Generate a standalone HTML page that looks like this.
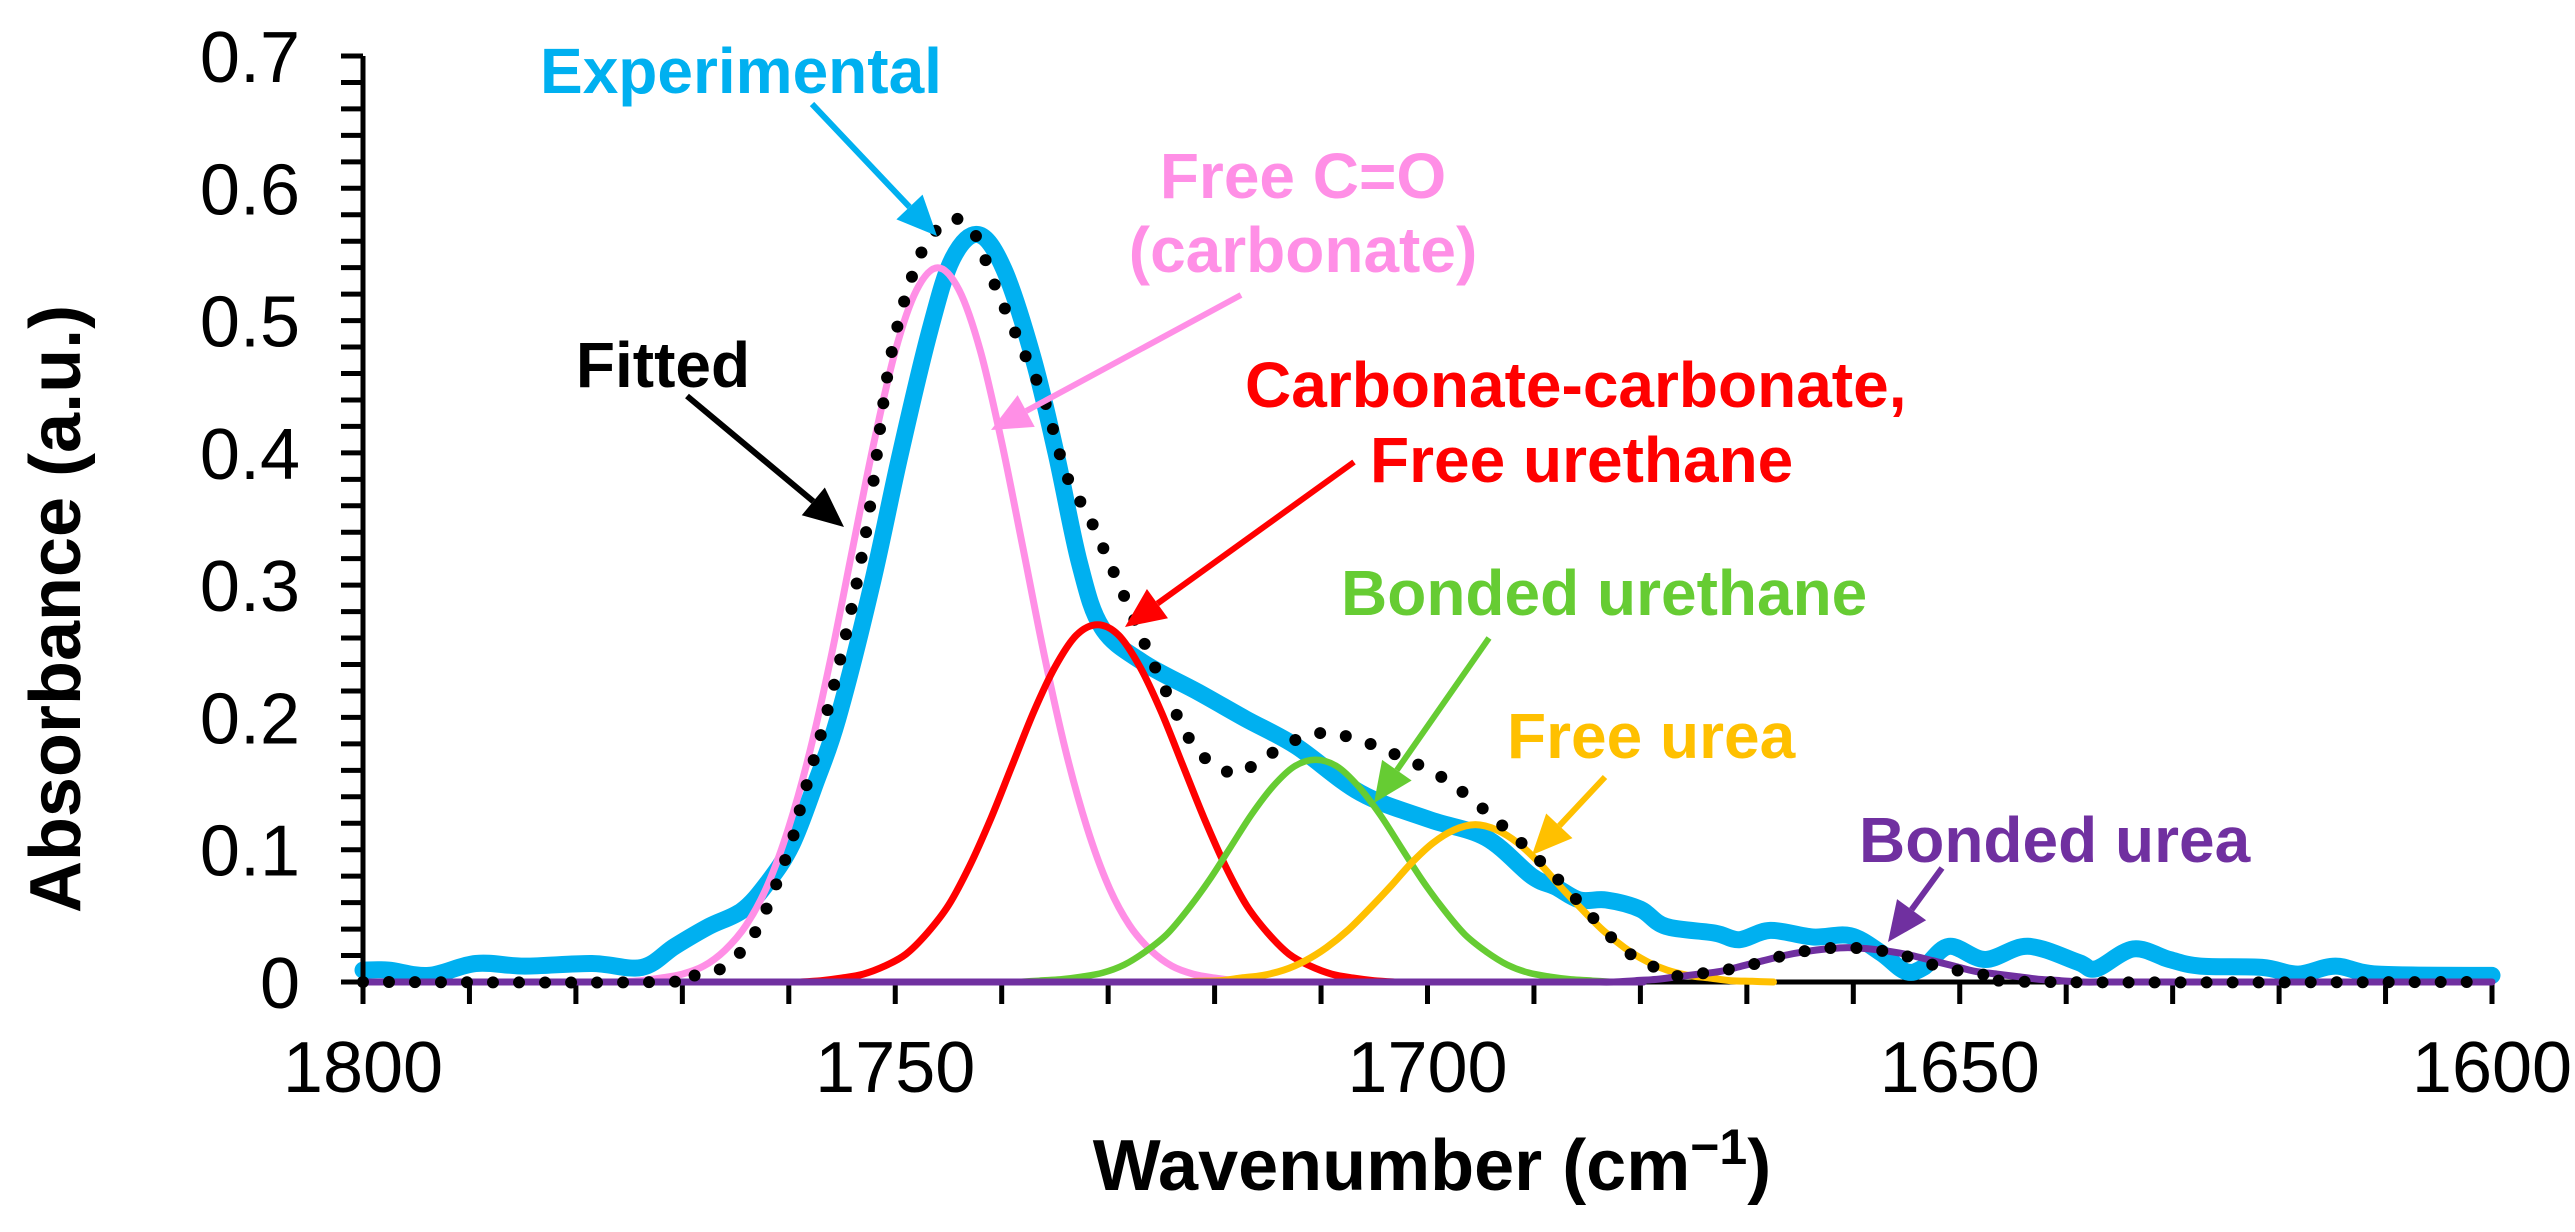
<!DOCTYPE html>
<html>
<head>
<meta charset="utf-8">
<style>
  html,body{margin:0;padding:0;background:#fff;}
  svg{display:block;font-family:"Liberation Sans",Arial,sans-serif;}
</style>
</head>
<body>
<svg id="chart" width="2575" height="1232" viewBox="0 0 2575 1232" xmlns="http://www.w3.org/2000/svg">
  <rect x="0" y="0" width="2575" height="1232" fill="#fff"/>
  <g id="ticks"></g>
  <g id="series"></g>
  <g id="axes"></g>
  <g id="annot"></g>
  <text transform="translate(80,609) rotate(-90)" text-anchor="middle" font-size="72" font-weight="bold" fill="#000">Absorbance (a.u.)</text>
  <text x="1432" y="1190" text-anchor="middle" font-size="72" font-weight="bold" fill="#000">Wavenumber (cm<tspan font-size="50" dy="-26">−1</tspan><tspan dy="26">)</tspan></text>
</svg>
<script>
// ---------- data ----------
const xTickLabels = [1800, 1750, 1700, 1650, 1600];
const yTickLabels = [0, 0.1, 0.2, 0.3, 0.4, 0.5, 0.6, 0.7];

const expW = [1800,1797.6,1793.8,1789.4,1784.8,1778.5,1773.8,1770.7,1767.5,1764.4,1762,1759.7,1757.5,1755.4,1752.2,1749.5,1746.7,1744.6,1742.2,1739.8,1737.1,1734.9,1732.7,1730.6,1726.8,1721.5,1717.1,1712.3,1706.3,1699.9,1694.5,1690.2,1688,1685.7,1683.2,1680,1677.6,1673,1670.7,1667.8,1663.8,1660.3,1657.4,1655.1,1653.4,1651,1647.6,1643.6,1638.9,1637.2,1633.7,1630.3,1627.4,1621.6,1618.2,1614.7,1610.7,1600];
const expA = [0.009,0.009,0.005,0.014,0.012,0.014,0.011,0.027,0.042,0.054,0.075,0.104,0.15,0.199,0.30,0.40,0.494,0.547,0.565,0.539,0.473,0.40,0.317,0.268,0.242,0.219,0.199,0.178,0.143,0.123,0.109,0.08,0.072,0.062,0.062,0.055,0.042,0.037,0.032,0.039,0.034,0.035,0.022,0.008,0.011,0.027,0.017,0.027,0.015,0.01,0.025,0.017,0.012,0.011,0.006,0.012,0.006,0.005];

const fitW = [1800,1772,1768.8,1766,1763,1760,1758.7,1755.4,1752.7,1750.6,1748.4,1746.5,1744.4,1742.5,1740.8,1738.2,1736,1733.9,1731.7,1729,1725.2,1721.9,1718.5,1716.5,1714.4,1711.5,1709.1,1706.5,1703.6,1698.3,1692.8,1688.5,1684.5,1681.6,1679.3,1677,1674.7,1670.1,1665.5,1660.9,1656.2,1651.6,1646.4,1642,1600];
const fitA = [0,0,0.005,0.012,0.04,0.1,0.138,0.236,0.342,0.465,0.534,0.565,0.577,0.565,0.53,0.481,0.44,0.383,0.35,0.301,0.231,0.178,0.158,0.163,0.174,0.186,0.188,0.183,0.174,0.153,0.117,0.084,0.049,0.025,0.014,0.005,0.006,0.012,0.022,0.026,0.022,0.011,0.004,0,0];

const pinkW = [1776,1774,1772,1770,1768,1766,1764,1762,1760,1758,1756,1754,1752,1750,1748,1746,1744,1742,1740,1738,1736,1734,1732,1730,1728,1726,1724,1722,1720,1718,1716];
const pinkA = [0,0.001,0.003,0.006,0.012,0.024,0.043,0.073,0.117,0.175,0.247,0.328,0.408,0.477,0.523,0.54,0.523,0.477,0.408,0.328,0.247,0.175,0.117,0.073,0.043,0.024,0.012,0.006,0.003,0.001,0];

const redW = [1759,1757,1755,1753,1751,1749,1747,1745,1743,1741,1739,1737,1735,1733,1731,1729,1727,1725,1723,1721,1719,1717,1715,1713,1711,1709,1707,1705,1703];
const redA = [0,0.001,0.003,0.006,0.012,0.021,0.037,0.058,0.088,0.124,0.164,0.204,0.238,0.262,0.27,0.262,0.238,0.204,0.164,0.124,0.088,0.058,0.037,0.021,0.012,0.006,0.003,0.001,0];

const greenW = [1738.5,1736.5,1734.5,1732.5,1730.5,1728.5,1726.5,1724.5,1722.5,1720.5,1718.5,1716.5,1714.5,1712.5,1710.5,1708.5,1706.5,1704.5,1702.5,1700.5,1698.5,1696.5,1694.5,1692.5,1690.5,1688.5,1686.5,1684.5,1682.5];
const greenA = [0,0.001,0.002,0.004,0.007,0.013,0.023,0.036,0.055,0.077,0.102,0.127,0.148,0.163,0.168,0.163,0.148,0.127,0.102,0.077,0.055,0.036,0.023,0.013,0.007,0.004,0.002,0.001,0];

const orangeW = [1723.5,1721.5,1719.5,1717.5,1715.5,1713.5,1711.5,1709.5,1707.5,1705.5,1703.5,1701.5,1699.5,1697.5,1695.5,1693.5,1691.5,1689.5,1687.5,1685.5,1683.5,1681.5,1679.5,1677.5,1675.5,1673.5,1671.5,1669.5,1667.5];
const orangeA = [0,0.0005,0.001,0.003,0.005,0.009,0.016,0.026,0.039,0.055,0.072,0.090,0.105,0.115,0.119,0.115,0.105,0.090,0.072,0.055,0.039,0.026,0.016,0.009,0.005,0.003,0.001,0.0005,0];

const purpleW = [1800,1688.5,1686.5,1684.5,1682.5,1680.5,1678.5,1676.5,1674.5,1672.5,1670.5,1668.5,1666.5,1664.5,1662.5,1660.5,1658.5,1656.5,1654.5,1652.5,1650.5,1648.5,1646.5,1644.5,1642.5,1640.5,1638.5,1636.5,1634.5,1632.5,1600];
const purpleA = [0,0,0,0,0,0.001,0.002,0.004,0.006,0.008,0.012,0.016,0.020,0.023,0.025,0.026,0.025,0.023,0.020,0.016,0.012,0.008,0.006,0.004,0.002,0.001,0,0,0,0,0];

// ---------- scales ----------
const X0 = 363, X1 = 2492, W0 = 1800, W1 = 1600;
const Y0 = 982, Y1 = 56, A0 = 0, A1 = 0.7;
function xs(w){ return X0 + (W0 - w) / (W0 - W1) * (X1 - X0); }
function ys(a){ return Y0 - (a - A0) / (A1 - A0) * (Y0 - Y1); }

const NS = "http://www.w3.org/2000/svg";
function mk(tag, parent){ const e = document.createElementNS(NS, tag); parent.appendChild(e); return e; }

function smoothPath(ws, as){
  const p = ws.map((w,i)=>[xs(w), ys(as[i])]);
  let d = "M" + p[0][0].toFixed(1) + "," + p[0][1].toFixed(1);
  for (let i=0;i<p.length-1;i++){
    const p0 = p[i-1]||p[i], p1=p[i], p2=p[i+1], p3=p[i+2]||p[i+1];
    const c1x = p1[0]+(p2[0]-p0[0])/6, c1y = p1[1]+(p2[1]-p0[1])/6;
    const c2x = p2[0]-(p3[0]-p1[0])/6, c2y = p2[1]-(p3[1]-p1[1])/6;
    d += " C"+c1x.toFixed(1)+","+c1y.toFixed(1)+" "+c2x.toFixed(1)+","+c2y.toFixed(1)+" "+p2[0].toFixed(1)+","+p2[1].toFixed(1);
  }
  return d;
}

// ---------- ticks ----------
const tg = document.getElementById('ticks');
for (let w = 1800; w >= 1600; w -= 10){
  const t = mk('line', tg);
  
  
  t.setAttribute('x1', xs(w)); t.setAttribute('x2', xs(w));
  t.setAttribute('y1', Y0); t.setAttribute('y2', Y0 + 22);
  t.setAttribute('stroke', '#000'); t.setAttribute('stroke-width', '5');
}
for (let k = 0; k <= 35; k++){
  const a = k * 0.02;
  const t = mk('line', tg);
  
  
  t.setAttribute('x1', X0 - 22); t.setAttribute('x2', X0);
  t.setAttribute('y1', ys(a)); t.setAttribute('y2', ys(a));
  t.setAttribute('stroke', '#000'); t.setAttribute('stroke-width', '5');
}
xTickLabels.forEach(v=>{
  const t = mk('text', tg);
  
  
  t.setAttribute('x', xs(v)); t.setAttribute('y', 1092);
  t.setAttribute('text-anchor', 'middle'); t.setAttribute('font-size', '72');
  t.textContent = v;
});
yTickLabels.forEach(v=>{
  const t = mk('text', tg);
  
  
  t.setAttribute('x', 300); t.setAttribute('y', ys(v) + 26);
  t.setAttribute('text-anchor', 'end'); t.setAttribute('font-size', '72');
  t.textContent = v;
});

// ---------- axes ----------
const ag = document.getElementById('axes');
const yAxis = mk('line', ag);


yAxis.setAttribute('x1', X0); yAxis.setAttribute('x2', X0);
yAxis.setAttribute('y1', Y1); yAxis.setAttribute('y2', Y0 + 2);
yAxis.setAttribute('stroke', '#000'); yAxis.setAttribute('stroke-width', '5');

// ---------- series ----------
const sg = document.getElementById('series');
const xAxis = mk('line', sg);


xAxis.setAttribute('x1', X0); xAxis.setAttribute('x2', X1);
xAxis.setAttribute('y1', Y0); xAxis.setAttribute('y2', Y0);
xAxis.setAttribute('stroke', '#000'); xAxis.setAttribute('stroke-width', '5');

function addSeries(name, ws, as, color, width, dash){
  const p = mk('path', sg);
  
  
  p.setAttribute('d', smoothPath(ws, as));
  p.setAttribute('fill', 'none');
  p.setAttribute('stroke', color);
  p.setAttribute('stroke-width', width);
  p.setAttribute('stroke-linejoin', 'round');
  p.setAttribute('stroke-linecap', 'round');
  if (dash) p.setAttribute('stroke-dasharray', dash);
}
addSeries('experimental-line', expW, expA, '#00B0F0', 17);
addSeries('free-co-carbonate-line', pinkW, pinkA, '#FF8FE6', 7);
addSeries('carbonate-carbonate-line', redW, redA, '#FF0000', 7);
addSeries('bonded-urethane-line', greenW, greenA, '#66CC33', 6.5);
addSeries('free-urea-line', orangeW, orangeA, '#FFC000', 7);
addSeries('bonded-urea-line', purpleW, purpleA, '#7030A0', 7);
addSeries('fitted-line', fitW, fitA, '#000', 12, '0 26');

// ---------- annotations ----------
const ng = document.getElementById('annot');
function label(name, txt, x, y, color, anchor){
  const t = mk('text', ng);
  
  
  t.setAttribute('x', x); t.setAttribute('y', y);
  t.setAttribute('font-size', '64'); t.setAttribute('font-weight', 'bold');
  t.setAttribute('fill', color);
  t.setAttribute('text-anchor', anchor || 'start');
  t.textContent = txt;
}
function arrow(name, x1, y1, x2, y2, color){
  const g = mk('g', ng);
  
  
  const dx = x2-x1, dy = y2-y1, L = Math.hypot(dx,dy), ux = dx/L, uy = dy/L;
  const hl = 40, hw = 18;
  const bx = x2 - ux*hl, by = y2 - uy*hl;
  const l = mk('line', g);
  l.setAttribute('x1', x1); l.setAttribute('y1', y1);
  l.setAttribute('x2', bx); l.setAttribute('y2', by);
  l.setAttribute('stroke', color); l.setAttribute('stroke-width', '6');
  const h = mk('polygon', g);
  h.setAttribute('points', x2+','+y2+' '+(bx-uy*hw)+','+(by+ux*hw)+' '+(bx+uy*hw)+','+(by-ux*hw));
  h.setAttribute('fill', color);
}
label('experimental-label', 'Experimental', 540, 93, '#00B0F0');
arrow('experimental-arrow', 812, 104, 937, 236, '#00B0F0');
label('free-co-label', 'Free C=O', 1303, 198, '#FF8FE6', 'middle');
label('carbonate-label', '(carbonate)', 1303, 272, '#FF8FE6', 'middle');
arrow('free-co-arrow', 1241, 295, 991, 430, '#FF8FE6');
label('fitted-label', 'Fitted', 663, 387, '#000', 'middle');
arrow('fitted-arrow', 687, 396, 844, 527, '#000');
label('carbonate-carbonate-label', 'Carbonate-carbonate,', 1245, 407, '#FF0000');
label('free-urethane-label', 'Free urethane', 1370, 482, '#FF0000');
arrow('carbonate-carbonate-arrow', 1354, 462, 1125, 627, '#FF0000');
label('bonded-urethane-label', 'Bonded urethane', 1341, 615, '#66CC33');
arrow('bonded-urethane-arrow', 1489, 638, 1374, 803, '#66CC33');
label('free-urea-label', 'Free urea', 1507, 758, '#FFC000');
arrow('free-urea-arrow', 1605, 777, 1532, 855, '#FFC000');
label('bonded-urea-label', 'Bonded urea', 1859, 862, '#7030A0');
arrow('bonded-urea-arrow', 1942, 868, 1888, 942, '#7030A0');
</script>
</body>
</html>
